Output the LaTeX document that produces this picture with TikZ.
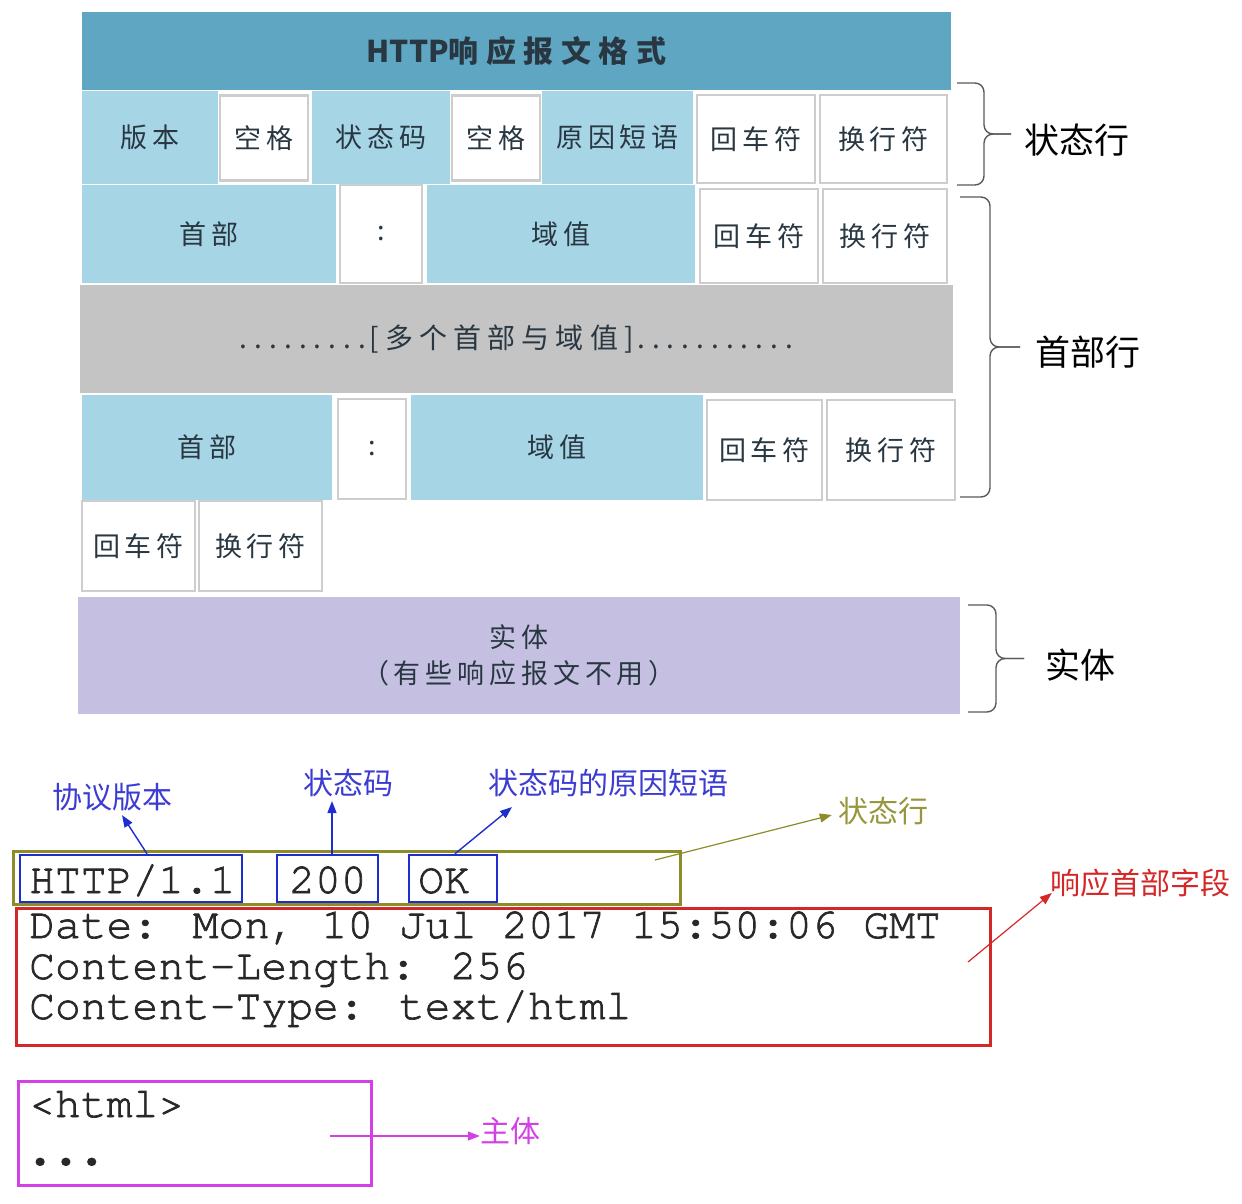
\documentclass[tikz,border=0pt]{standalone}
\usepackage{fontspec}
\newfontfamily\cjk{Noto Sans CJK SC}
\newfontfamily\cellfont{Noto Sans CJK SC}[LetterSpace=18]
\newfontfamily\codefont{TeX Gyre Cursor}[FakeBold=1.6]
\newfontfamily\dotfont{TeX Gyre Cursor}[FakeBold=6]
\usetikzlibrary{positioning,calc,arrows.meta}

\definecolor{bandblue}{RGB}{94,166,194}
\definecolor{cellblue}{RGB}{166,213,230}
\definecolor{cellgray}{RGB}{205,205,205}
\definecolor{bandgray}{RGB}{196,196,196}
\definecolor{entityviolet}{RGB}{197,192,226}
\definecolor{celltext}{RGB}{40,55,65}
\definecolor{lblblue}{RGB}{60,60,210}
\definecolor{boxblue}{RGB}{30,45,205}
\definecolor{olive}{RGB}{140,140,40}
\definecolor{lblolive}{RGB}{150,150,60}
\definecolor{hdred}{RGB}{212,40,40}
\definecolor{bodymag}{RGB}{210,64,230}
\definecolor{codetext}{RGB}{40,40,40}

\newcommand\dotrun[1]{\foreach\k in {1,...,#1}{\makebox[14.8pt]{.}}}
% right-hand brace: x, top, bottom, half depth
\newcommand\sidebrace[4]{%
  \pgfmathsetmacro\bmid{(#2+#3)/2}
  \draw[bracket] (#1,#2) -- (#1+#4,#2) -- (#1+#4,\bmid) -- (#1+2*#4,\bmid);
  \draw[bracket] (#1,#3) -- (#1+#4,#3) -- (#1+#4,\bmid) -- (#1+2*#4,\bmid);}

\begin{document}
\begin{tikzpicture}[x=1pt,y=-1pt,>={Triangle[length=12pt,width=9pt]},
  every node/.style={inner sep=0pt},
  field/.style={rectangle,fill=cellblue,text=celltext,font=\fontsize{27}{32}\cellfont},
  blank/.style={rectangle,fill=white,draw=cellgray,line width=2.5pt,text=celltext,font=\fontsize{27}{32}\cellfont},
  sidelbl/.style={font=\fontsize{35}{40}\cjk},
  bracket/.style={draw=black!65,line width=1.4pt,rounded corners=9pt},
  note/.style={font=\fontsize{30}{34}\cjk},
  codeline/.style={anchor=base west,text=codetext,font=\fontsize{43}{45}\codefont},
  frame/.style={rectangle,draw,line width=3pt},
  pointer/.style={->,line width=1.4pt}]
  \useasboundingbox (0,0) rectangle (1242,1204);

  % format table
  \node[rectangle,fill=bandblue,minimum width=869,minimum height=78,text=celltext,
    font=\fontsize{30}{34}\cjk\bfseries] (title) at (516.5,51) {HTTP{\cellfont\addfontfeature{LetterSpace=25}响应报文格式}};

  \node[field,minimum width=136,minimum height=93] (ver) at (150,137.5) {版本};
  \node[blank,minimum width=88,minimum height=85] (sp1) at (264,138) {空格};
  \node[field,minimum width=138,minimum height=93] (code) at (381,137.5) {状态码};
  \node[blank,minimum width=88,minimum height=85] (sp2) at (496,138) {空格};
  \node[field,minimum width=151,minimum height=93] (reason) at (617.5,137.5) {原因短语};
  \node[blank,minimum width=118,minimum height=88] (cr1) at (756,139) {回车符};
  \node[blank,minimum width=127,minimum height=88] (lf1) at (883.5,139) {换行符};

  \node[field,minimum width=254,minimum height=98] (hd1) at (209,234) {首部};
  \node[blank,minimum width=82,minimum height=98] (col1) at (381,234) {:};
  \node[field,minimum width=268,minimum height=98] (val1) at (561,234) {域值};
  \node[blank,minimum width=118,minimum height=94] (cr2) at (759,236) {回车符};
  \node[blank,minimum width=124,minimum height=94] (lf2) at (885,236) {换行符};

  \node[rectangle,fill=bandgray,minimum width=873,minimum height=108,text=celltext,
    font=\fontsize{28}{32}\cjk] (more) at (516.5,339)
    {\dotrun{9}{\cellfont\addfontfeature{LetterSpace=22}[多个首部与域值]}\dotrun{11}};

  \node[field,minimum width=250,minimum height=105] (hd2) at (207,447.5) {首部};
  \node[blank,minimum width=68,minimum height=100] (col2) at (372,449) {:};
  \node[field,minimum width=292,minimum height=105] (val2) at (557,447.5) {域值};
  \node[blank,minimum width=115,minimum height=100] (cr3) at (764.5,450) {回车符};
  \node[blank,minimum width=128,minimum height=100] (lf3) at (891,450) {换行符};

  \node[blank,minimum width=113,minimum height=90] (cr4) at (138.5,546) {回车符};
  \node[blank,minimum width=123,minimum height=90] (lf4) at (260.5,546) {换行符};

  \node[rectangle,fill=entityviolet,minimum width=882,minimum height=117,text=celltext,
    align=center,font=\fontsize{27}{36}\cellfont] (entity) at (519,655.5)
    {实体\\（有些响应报文不用）};

  % braces on the right
  \sidebrace{957}{83}{185}{27}
  \node[sidelbl] (statuslbl) at (1077,140) {状态行};
  \sidebrace{960}{197}{497}{30}
  \node[sidelbl] (headlbl) at (1088,352) {首部行};
  \sidebrace{968}{605}{712}{28}
  \node[sidelbl] (bodylbl) at (1080,665) {实体};

  % example response
  \node[note,text=lblblue] (protolbl) at (112,797) {协议版本};
  \node[note,text=lblblue] (codelbl) at (348,783) {状态码};
  \node[note,text=lblblue] (reasonlbl) at (608,783) {状态码的原因短语};

  \node[frame,draw=olive,minimum width=667,minimum height=53] (stline) at (346.5,877.5) {};
  \node[frame,draw=boxblue,line width=2.5pt,minimum width=222,minimum height=47] (httpbox) at (131,878.5) {};
  \node[frame,draw=boxblue,line width=2.5pt,minimum width=101,minimum height=47] (codebox) at (327.5,878.5) {};
  \node[frame,draw=boxblue,line width=2.5pt,minimum width=88,minimum height=47] (okbox) at (453,878.5) {};
  \node[codeline] (httptxt) at (29,893) {HTTP/1.1};
  \node[codeline] (codetxt) at (289,893) {200};
  \node[codeline] (oktxt) at (418,893) {OK};

  \draw[pointer,boxblue] ([xshift=16]httpbox.north) -- ([xshift=10,yshift=-4]protolbl.south);
  \draw[pointer,boxblue] ([xshift=4.5]codebox.north) -- ([xshift=-16,yshift=-4]codelbl.south);
  \draw[pointer,boxblue] ([xshift=2]okbox.north) -- ($(reasonlbl.south)+(-96,10)$);

  \node[note,text=lblolive] (stlbl) at (883,811) {状态行};
  \coordinate (olvtail) at (655,860);
  \draw[pointer,olive,line width=1.2pt] (olvtail) -- ([xshift=-6,yshift=-4]stlbl.west);

  \node[frame,draw=hdred,minimum width=974,minimum height=137] (hdbox) at (503,977) {};
  \node[codeline] (dateln) at (29,938) {Date: Mon, 10 Jul 2017 15:50:06 GMT};
  \node[codeline] (lenln) at (29,979) {Content-Length: 256};
  \node[codeline] (typeln) at (29,1019) {Content-Type: text/html};
  \node[note,text=hdred] (fieldlbl) at (1140,883) {响应首部字段};
  \coordinate (redtail) at (968,962);
  \draw[pointer,hdred,line width=1.2pt] (redtail) -- ([xshift=2,yshift=-10]fieldlbl.west);

  \node[frame,draw=bodymag,minimum width=353,minimum height=104] (bodybox) at (194.5,1133) {};
  \node[codeline] (htmlln) at (29,1117) {<html>};
  \node[codeline,font=\fontsize{43}{45}\dotfont] (dotsln) at (27,1164) {...};
  \node[note,text=bodymag] (mainlbl) at (510,1131) {主体};
  \coordinate (magtail) at (330,1136);
  \draw[pointer,bodymag] (magtail) -- ([yshift=-5]mainlbl.west);
\end{tikzpicture}
\end{document}
